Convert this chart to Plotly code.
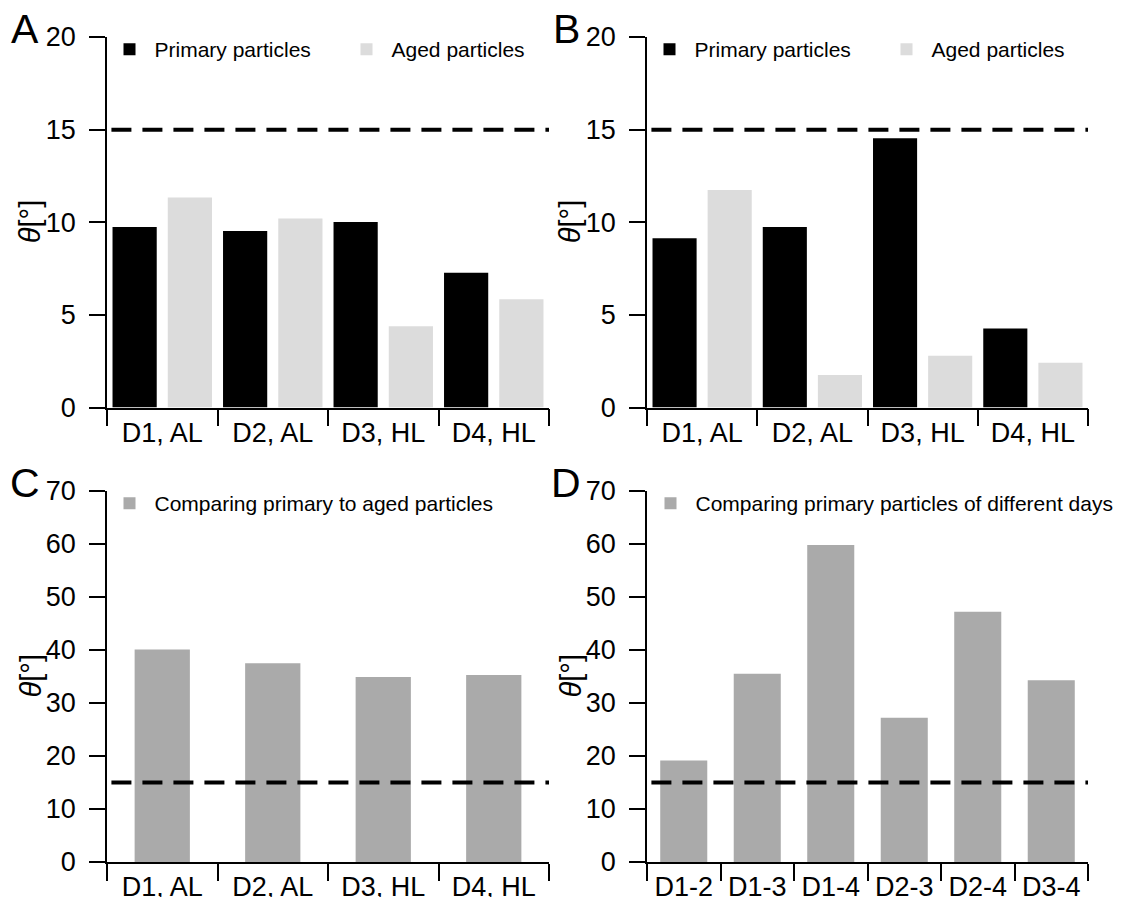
import plotly.graph_objects as go

# ---- data ----
cats_ab = ["D1, AL", "D2, AL", "D3, HL", "D4, HL"]
a_primary = [9.75, 9.53, 10.02, 7.27]
a_aged = [11.33, 10.20, 4.39, 5.85]
b_primary = [9.14, 9.75, 14.54, 4.27]
b_aged = [11.74, 1.76, 2.80, 2.42]
cats_c = ["D1, AL", "D2, AL", "D3, HL", "D4, HL"]
c_values = [40.1, 37.5, 34.9, 35.3]
cats_d = ["D1-2", "D1-3", "D1-4", "D2-3", "D2-4", "D3-4"]
d_values = [19.15, 35.5, 59.8, 27.2, 47.2, 34.3]
threshold = 15
panel_letters = ["A", "B", "C", "D"]
y_title = "<i>θ</i>[°]"

W, H = 1122, 897
FONT = "Arial, Liberation Sans, sans-serif"
BLACK = "#000000"
LIGHT = "#dcdcdc"
MID = "#aaaaaa"

def px_x(p):
    return p / W

def px_y(p):
    return 1 - p / H

fig = go.Figure()

# Panel A
fig.add_trace(go.Bar(x=cats_ab, y=a_primary, name="Primary particles", marker_color=BLACK,
                     width=0.4, offset=-0.45, xaxis="x", yaxis="y", legend="legend"))
fig.add_trace(go.Bar(x=cats_ab, y=a_aged, name="Aged particles", marker_color=LIGHT,
                     width=0.4, offset=0.05, xaxis="x", yaxis="y", legend="legend"))
# Panel B
fig.add_trace(go.Bar(x=cats_ab, y=b_primary, name="Primary particles", marker_color=BLACK,
                     width=0.4, offset=-0.45, xaxis="x2", yaxis="y2", legend="legend2"))
fig.add_trace(go.Bar(x=cats_ab, y=b_aged, name="Aged particles", marker_color=LIGHT,
                     width=0.4, offset=0.05, xaxis="x2", yaxis="y2", legend="legend2"))
# Panel C
fig.add_trace(go.Bar(x=cats_c, y=c_values, name="Comparing primary to aged particles",
                     marker_color=MID, width=0.5, xaxis="x3", yaxis="y3", legend="legend3"))
# Panel D
fig.add_trace(go.Bar(x=cats_d, y=d_values, name="Comparing primary particles of different days",
                     marker_color=MID, width=0.64, xaxis="x4", yaxis="y4", legend="legend4"))

for t in fig.data:
    t.marker.line.width = 0

xl, xr = px_x(107), px_x(549)
xl2, xr2 = px_x(647), px_x(1088)
yt1, yb1 = px_y(37), px_y(407.5)
yt2, yb2 = px_y(491), px_y(862)

def xax(domain, anchor, n):
    return dict(domain=domain, anchor=anchor, type="category", range=[-0.5, n - 0.5],
                automargin=False,
                showline=True, linecolor=BLACK, linewidth=1.5, ticks="outside",
                tickson="boundaries", ticklen=17, tickwidth=1.5, tickcolor=BLACK,
                showgrid=False, zeroline=False,
                tickfont=dict(family=FONT, size=27, color=BLACK))

def yax(domain, anchor, rng, dtick):
    return dict(domain=domain, anchor=anchor, range=rng, dtick=dtick, tick0=0,
                automargin=False,
                showline=True, linecolor=BLACK, linewidth=1.5, ticks="outside",
                ticklen=16, tickwidth=1.5, tickcolor=BLACK, showgrid=False, zeroline=False,
                ticklabelstandoff=8,
                tickfont=dict(family=FONT, size=27, color=BLACK))

fig.update_layout(
    width=W, height=H, margin=dict(l=0, r=0, t=0, b=0, autoexpand=False),
    paper_bgcolor="white", plot_bgcolor="white",
    barmode="overlay",
    font=dict(family=FONT, color=BLACK),
    xaxis=xax([xl, xr], "y", len(cats_ab)),
    yaxis=yax([yb1, yt1], "x", [0, 20], 5),
    xaxis2=xax([xl2, xr2], "y2", len(cats_ab)),
    yaxis2=yax([yb1, yt1], "x2", [0, 20], 5),
    xaxis3=xax([xl, xr], "y3", len(cats_c)),
    yaxis3=yax([yb2, yt2], "x3", [0, 70], 10),
    xaxis4=xax([xl2, xr2], "y4", len(cats_d)),
    yaxis4=yax([yb2, yt2], "x4", [0, 70], 10),
)

leg_common = dict(orientation="h", xanchor="left", yanchor="top", bgcolor="rgba(0,0,0,0)",
                  font=dict(family=FONT, size=21, color=BLACK), itemwidth=40,
                  entrywidth=182, itemclick=False)
fig.update_layout(
    legend=dict(leg_common, x=px_x(104.5), y=px_y(29)),
    legend2=dict(leg_common, x=px_x(644.5), y=px_y(29)),
    legend3=dict(leg_common, x=px_x(104.5), y=px_y(483)),
    legend4=dict(leg_common, x=px_x(645.5), y=px_y(483)),
)
fig.layout.legend3.entrywidth = None
fig.layout.legend4.entrywidth = None

# threshold dashed lines
for xa, ya in [("x", "y"), ("x2", "y2"), ("x3", "y3"), ("x4", "y4")]:
    fig.add_shape(type="line", xref=f"{xa} domain", yref=ya, x0=0.01, x1=1,
                  y0=threshold, y1=threshold, layer="above",
                  line=dict(color=BLACK, width=4, dash="20px,11px"))

# y-axis titles
for ya, cx in [("y", 30), ("y2", 570), ("y3", 30), ("y4", 570)]:
    fig.add_annotation(text=y_title, xref="paper", yref=f"{ya} domain", x=px_x(cx), y=0.5,
                       xanchor="center", yanchor="middle", textangle=-90, showarrow=False,
                       font=dict(family=FONT, size=29, color=BLACK))

# panel letters
for letter, (cx, cy) in zip(panel_letters, [(25, 29), (566, 29), (25, 483), (566, 483)]):
    fig.add_annotation(text=letter, xref="paper", yref="paper", x=px_x(cx), y=px_y(cy),
                       xanchor="center", yanchor="middle", showarrow=False,
                       font=dict(family=FONT, size=41, color=BLACK))

fig.write_html("out.html", post_script="document.body.style.margin='0';",
               config={"displayModeBar": False})
